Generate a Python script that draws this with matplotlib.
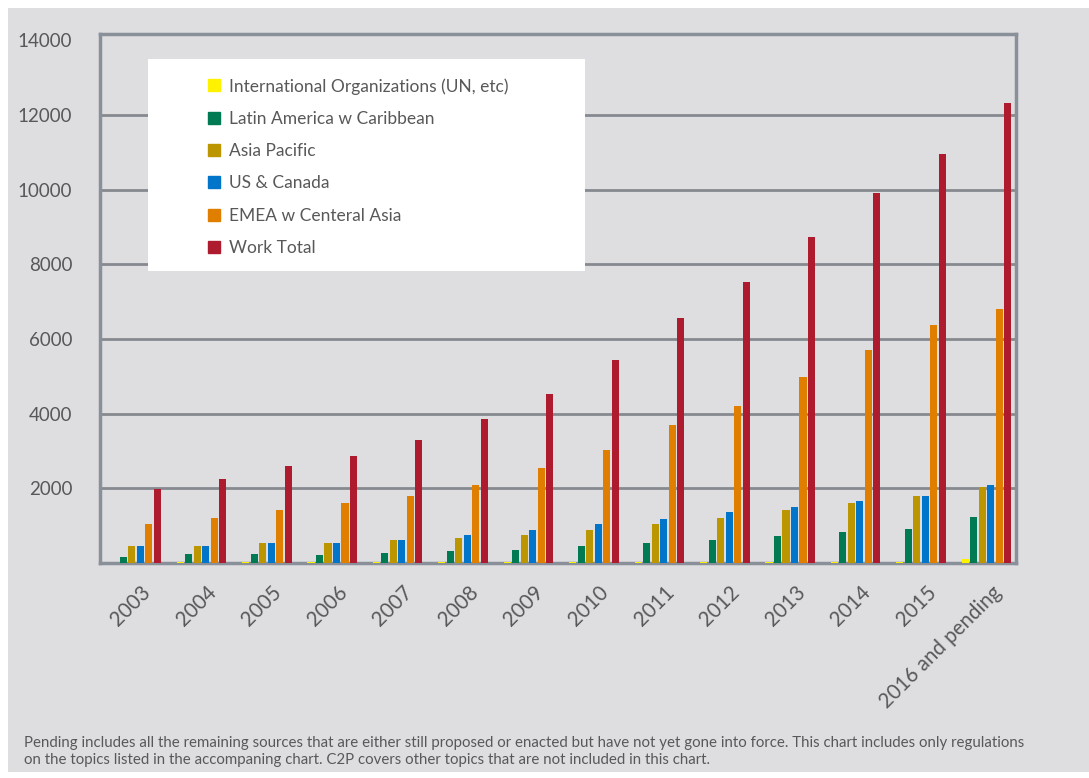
import matplotlib
matplotlib.use("Agg")
import matplotlib.pyplot as plt
import matplotlib.transforms as mtransforms
import numpy as np
from matplotlib.lines import Line2D
from matplotlib.patches import Rectangle

# data
categories = ["2003", "2004", "2005", "2006", "2007", "2008", "2009", "2010",
              "2011", "2012", "2013", "2014", "2015", "2016 and pending"]
intl_orgs = [0, 40, 40, 40, 40, 40, 40, 40, 40, 40, 40, 40, 40, 120]
latin_america = [160, 240, 240, 215, 270, 320, 350, 455, 535, 615, 725, 830, 910, 1230]
asia_pacific = [455, 455, 535, 535, 615, 670, 750, 885, 1045, 1205, 1420, 1605, 1795, 2035]
us_canada = [455, 455, 535, 535, 615, 750, 885, 1045, 1180, 1365, 1500, 1660, 1795, 2090]
emea = [1045, 1205, 1420, 1605, 1795, 2090, 2545, 3025, 3700, 4205, 4985, 5705, 6375, 6805]
work_total = [1980, 2250, 2600, 2865, 3295, 3855, 4525, 5440, 6560, 7525, 8735, 9910, 10955, 12325]

series_names = ["International Organizations (UN, etc)", "Latin America w Caribbean",
                "Asia Pacific", "US & Canada", "EMEA w Centeral Asia", "Work Total"]
series = [intl_orgs, latin_america, asia_pacific, us_canada, emea, work_total]
colors = ["#fff200", "#007a53", "#bb9600", "#0075c9", "#e07e00", "#ae1a2e"]

y_ticks = [2000, 4000, 6000, 8000, 10000, 12000, 14000]

footnote = ("Pending includes all the remaining sources that are either still proposed or enacted but have not yet gone into force. "
            "This chart includes only regulations\non the topics listed in the accompaning chart. "
            "C2P covers other topics that are not included in this chart.")

plt.rcParams['font.family'] = ['Lato', 'DejaVu Sans']
bg = "#dedee0"
txt = "#58585a"

W, H = 1089, 778
fig = plt.figure(figsize=(W / 100, H / 100), dpi=100, facecolor="white")
fig.patches.append(Rectangle((8 / W, 6 / H), 1 - 8 / W, 1 - 14 / H,
                             transform=fig.transFigure, facecolor=bg,
                             edgecolor="none", zorder=-10))

ax = fig.add_axes([100 / W, 1 - 563 / H, 916 / W, 529 / H])
ax.set_facecolor(bg)

x = np.arange(len(categories))
step = 0.13
width = 0.108
for k, (vals, col) in enumerate(zip(series, colors)):
    ax.bar(x + (k - 2.5) * step + 0.05, vals, width=width, color=col, zorder=3)

ax.set_xlim(-0.5, len(categories) - 0.5)
ax.set_ylim(0, 14170)
ax.set_yticks(y_ticks)
ax.set_yticklabels([str(v) for v in y_ticks])
ax.yaxis.grid(True, color="#868a90", linewidth=2, zorder=1)
ax.get_ygridlines()[-1].set_visible(False)
ax.set_axisbelow(True)

ax.set_xticks(x)
ax.set_xticklabels(categories, rotation=45, ha="right", va="top",
                   rotation_mode="anchor")
ax.tick_params(axis="x", length=0, pad=14, labelsize=14.8, labelcolor=txt)
ax.tick_params(axis="y", length=0, pad=20, labelsize=13.5, labelcolor=txt)
shift = mtransforms.ScaledTranslation(8 / 100, 0, fig.dpi_scale_trans)
for lbl in ax.get_xticklabels():
    lbl.set_transform(lbl.get_transform() + shift)

for s in ax.spines.values():
    s.set_color("#8a9099")
    s.set_linewidth(2.5)

# legend on a white panel
ax.add_patch(Rectangle((48 / 916, 1 - 271 / 529 + 34 / 529), 437 / 916, 212 / 529,
                       transform=ax.transAxes, facecolor="white",
                       edgecolor="none", zorder=4))
handles = [Line2D([], [], marker="s", linestyle="none", markersize=8,
                  markerfacecolor=c, markeredgecolor=c) for c in colors]
leg = ax.legend(handles, series_names, loc="upper left",
                bbox_to_anchor=(100 / 916, 1 - 37 / 529), frameon=False,
                fontsize=12.5, labelcolor=txt, handlelength=0.8,
                handletextpad=0.45, labelspacing=0.94, borderaxespad=0)
leg.set_zorder(5)

fig.text(24 / W, 1 - 736 / H, footnote, fontsize=10.85, color=txt, va="top",
         linespacing=1.25)

fig.savefig("out.png", dpi=100, facecolor="white")
